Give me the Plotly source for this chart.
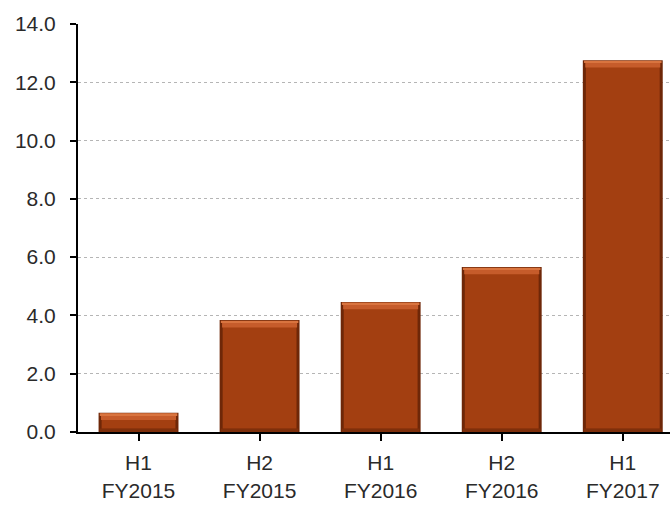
import plotly.graph_objects as go

periods = ["H1<br>FY2015", "H2<br>FY2015", "H1<br>FY2016", "H2<br>FY2016", "H1<br>FY2017"]
values = [0.66, 3.84, 4.46, 5.66, 12.76]
y_ticks = [0, 2, 4, 6, 8, 10, 12, 14]
y_labels = ["0.0", "2.0", "4.0", "6.0", "8.0", "10.0", "12.0", "14.0"]

x = list(range(len(periods)))
edge = 0.12
bevel = 0.22

fig = go.Figure()
# outer dark frame of each bar
fig.add_trace(go.Bar(x=x, y=values, width=0.66, marker=dict(color="#6E2708", line=dict(width=0)),
                     hoverinfo="skip"))
# bottom bevel (dark)
fig.add_trace(go.Bar(x=x, y=[edge] * len(values), width=0.64, marker=dict(color="#7E2F0B", line=dict(width=0)),
                     hoverinfo="skip"))
# main body
fig.add_trace(go.Bar(x=x, y=[v - 2 * edge for v in values], base=[edge] * len(values), width=0.61,
                     marker=dict(color="#A33F11", line=dict(width=0)), hovertemplate="%{y}<extra></extra>"))
# top bevel highlight
fig.add_trace(go.Bar(x=x, y=[bevel] * len(values), base=[v - bevel - 0.03 for v in values], width=0.62,
                     marker=dict(color="#C65C2B", line=dict(width=0)), hoverinfo="skip"))
# top bright edge
fig.add_trace(go.Bar(x=x, y=[0.06] * len(values), base=[v - 0.08 for v in values], width=0.64,
                     marker=dict(color="#D9743F", line=dict(width=0)), hoverinfo="skip"))

font = dict(family="Liberation Sans, Arial, sans-serif", size=21, color="#2A2A2A")

fig.update_layout(
    width=670, height=509,
    margin=dict(l=78, r=0, t=24, b=77),
    paper_bgcolor="white", plot_bgcolor="white",
    barmode="overlay", showlegend=False,
    font=font,
    xaxis=dict(
        range=[-0.5, 4.39], tickmode="array", tickvals=x, ticktext=periods,
        tickson="boundaries", ticks="outside", ticklen=7, tickwidth=2, tickcolor="black",
        showline=True, linecolor="black", linewidth=2, showgrid=False, zeroline=False,
        tickfont=font, fixedrange=True, ticklabelstandoff=4,
    ),
    yaxis=dict(
        range=[0, 14], tickmode="array", tickvals=y_ticks, ticktext=y_labels,
        ticks="outside", ticklen=6, tickwidth=2, tickcolor="black",
        showline=True, linecolor="black", linewidth=2,
        showgrid=True, gridcolor="#B5B5B5", gridwidth=1, griddash="dot",
        zeroline=False, tickfont=font, fixedrange=True, ticklabelstandoff=10,
    ),
)

fig.write_html("out.html")
